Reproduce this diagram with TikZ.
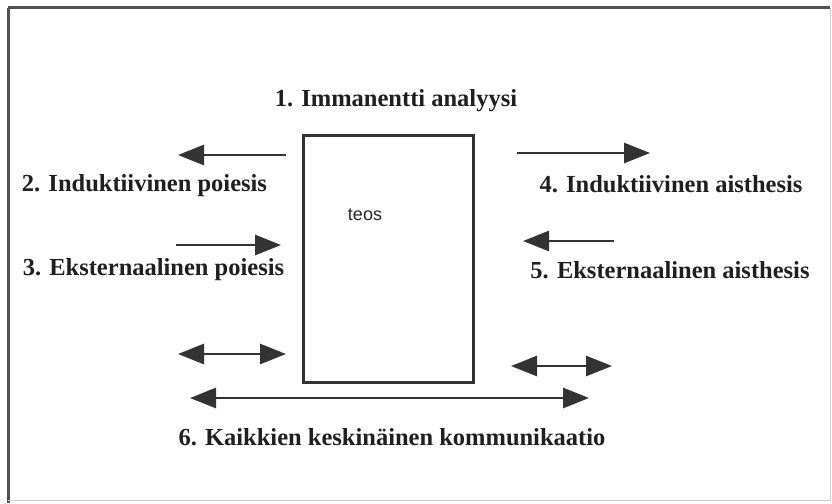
\documentclass[tikz,border=0pt]{standalone}
\usepackage{fontspec}
\setmainfont{Liberation Serif}
\newfontfamily\teosfont{Liberation Sans}
\usetikzlibrary{arrows.meta}
\definecolor{ink}{HTML}{333333}
\tikzset{
  flow/.style={draw=ink, line width=2.6pt, -{Triangle[length=26pt,width=20pt]}},
  twoway/.style={draw=ink, line width=2.6pt, {Triangle[length=26pt,width=20pt]}-{Triangle[length=26pt,width=20pt]}},
  label/.style={font=\bfseries\fontsize{24.5}{29}\selectfont, text=black!88, inner sep=0pt},
}
\begin{document}
\begin{tikzpicture}[x=1pt,y=-1pt]
  \useasboundingbox (0,0) rectangle (832,503);
  % outer frame
  \draw[draw=ink!85, line width=3pt] (8,8) -- (830,8);
  \draw[draw=ink!85, line width=3pt] (8,8) -- (8,503);
  \draw[draw=ink!25, line width=1pt] (830,8) -- (830,500) -- (8,500);
  % the work
  \node[draw=ink, line width=3pt, minimum width=170pt, minimum height=247pt, inner sep=0pt] (teos) at (388.5,259) {};
  \node[font=\teosfont\fontsize{18}{21}\selectfont, text=black!85, inner sep=0pt] (teoslbl) at (365,215) {teos};
  % labels
  \node[label] (l1) at (396,101) {1. Immanentti analyysi};
  \node[label] (l2) at (144.5,186) {2. Induktiivinen poiesis};
  \node[label] (l3) at (153.5,270) {3. Eksternaalinen poiesis};
  \node[label] (l4) at (671,184) {4. Induktiivinen aisthesis};
  \node[label] (l5) at (670,270) {5. Eksternaalinen aisthesis};
  \node[label] (l6) at (392,437) {6. Kaikkien keskinäinen kommunikaatio};
  % arrow end points
  \coordinate (a2s) at (286,155); \coordinate (a2e) at (178,155);
  \coordinate (a3s) at (176,245); \coordinate (a3e) at (281,245);
  \coordinate (a4s) at (517,153); \coordinate (a4e) at (650,153);
  \coordinate (a5s) at (614,241); \coordinate (a5e) at (523,241);
  \coordinate (b1s) at (178,354); \coordinate (b1e) at (286,354);
  \coordinate (b2s) at (511,366); \coordinate (b2e) at (612,366);
  \coordinate (b3s) at (190,398); \coordinate (b3e) at (589,398);
  % arrows
  \draw[flow] (a2s) -- (a2e);
  \draw[flow] (a3s) -- (a3e);
  \draw[flow] (a4s) -- (a4e);
  \draw[flow] (a5s) -- (a5e);
  \draw[twoway] (b1s) -- (b1e);
  \draw[twoway] (b2s) -- (b2e);
  \draw[twoway] (b3s) -- (b3e);
\end{tikzpicture}
\end{document}
